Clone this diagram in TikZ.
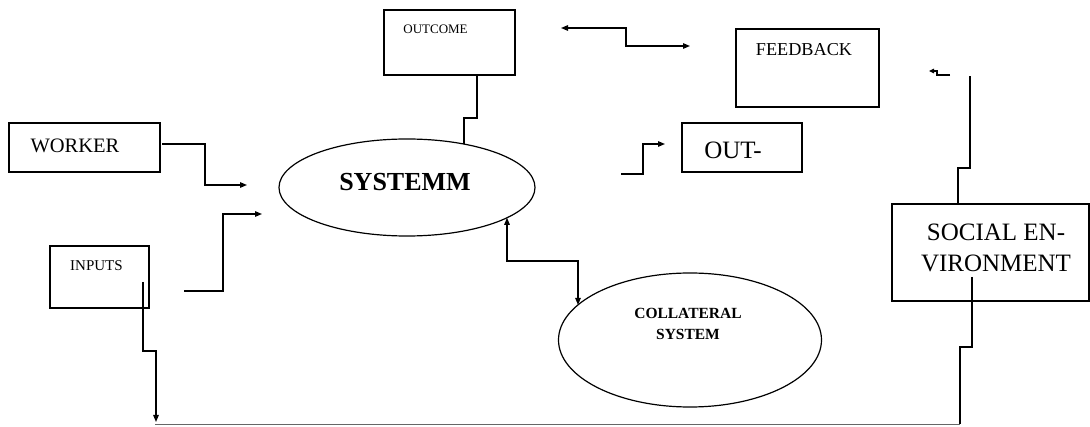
\documentclass[tikz,border=0pt]{standalone}
\usepackage{fontspec}
\setmainfont{Liberation Serif}
\usetikzlibrary{arrows.meta,shapes.geometric,calc}
\begin{document}
\begin{tikzpicture}[x=1pt,y=-1pt,
  box/.style={draw, line width=1.2pt, anchor=north west, inner sep=0pt, outer sep=0pt},
  oval/.style={draw, ellipse, line width=1.2pt, inner sep=0pt, outer sep=0pt},
  txt/.style={inner sep=0pt, align=center},
  conn/.style={line width=1.3pt},
  tip/.style={-{Triangle[length=7pt,width=5.5pt]}},
  arr/.style={conn, tip},
  darr/.style={conn, {Triangle[length=7pt,width=5.5pt]}-{Triangle[length=7pt,width=5.5pt]}},
  thin/.style={line width=0.8pt, draw=black!60}]
\useasboundingbox (0,0) rectangle (1090,427);

% boxes
\node[box, minimum width=131pt, minimum height=65pt] (outcome) at (384,10) {};
\node[box, minimum width=143pt, minimum height=78pt] (feedback) at (736,29) {};
\node[box, minimum width=151pt, minimum height=49pt] (worker) at (9,123) {};
\node[box, minimum width=99pt, minimum height=62pt] (inputs) at (50,246) {};
\node[box, minimum width=120pt, minimum height=49pt] (out) at (682,123) {};
\node[box, minimum width=197pt, minimum height=97pt] (social) at (892,204) {};
\node[oval, minimum width=256pt, minimum height=97pt] (sys) at (407,187.5) {};
\node[oval, minimum width=263pt, minimum height=134pt] (coll) at (690,340) {};

% texts
\node[txt, font=\fontsize{13}{15}\selectfont] (toutcome) at (435.5,29) {OUTCOME};
\node[txt, font=\fontsize{18.2}{20}\selectfont] (tfeedback) at (804,50) {FEEDBACK};
\node[txt, font=\fontsize{20.5}{22}\selectfont] (tworker) at (75,146) {WORKER};
\node[txt, font=\fontsize{15}{17}\selectfont] (tinputs) at (96.5,266) {INPUTS};
\node[txt, font=\fontsize{25}{27}\selectfont] (tout) at (733,150) {OUT-};
\node[txt, font=\fontsize{25}{31}\selectfont] (tsocial) at (996,247.5) {SOCIAL EN-\\VIRONMENT};
\node[txt, font=\fontsize{26}{28}\selectfont\bfseries] (tsys) at (405,182) {SYSTEMM};
\node[txt, font=\fontsize{15.5}{21}\selectfont\bfseries] (tcoll) at (688,323.5) {COLLATERAL\\SYSTEM};

% free ends
\coordinate (tl) at (561,28);
\coordinate (tr) at (690,46);
\coordinate (fbtip) at (929,71);
\coordinate (fbend) at (970,76);
\coordinate (wend) at (247,185);
\coordinate (iend) at (262,214);
\coordinate (istart) at (184,291);
\coordinate (ostart) at (621,174);
\coordinate (oend) at (665,144);
\coordinate (bl) at (155,424);
\coordinate (br) at (960,424);

% connectors
\draw[conn] ($(outcome.south west)+(93,0)$) -- ++(0,43) -- ++(-13,0) -- ($(sys.center)+(57,-43.4)$);
\draw[darr] (tl) -| (626,46) -- (tr);
\draw[line width=1.2pt, -{Triangle[length=5pt,width=4.5pt]}] (950,75) -- (937,75) -- (937,71) -- (fbtip);
\draw[conn] ($(social.north west)+(66,0)$) -- ++(0,-36) -- ++(12,0) -- (fbend);
\draw[conn] ($(social.north west)+(80,73)$) -- ++(0,70) -- ++(-12,0) -- (br);
\draw[thin] (br) -- (bl);
\draw[arr] ($(inputs.north west)+(93,36)$) -- ++(0,69) -- ++(13,0) -- ($(bl)+(1,-2)$);
\draw[arr] (istart) -- (223,291) -- (223,214) -- (iend);
\draw[arr] ($(worker.east)+(2,-3.5)$) -- (205,144) -- (205,185) -- (wend);
\draw[darr] ($(sys.center)+(100,30.3)$) -- (507,261) -- (578,261) -- ($(coll.center)+(-112,-35.1)$);
\draw[arr] (ostart) -- (643,174) -- (643,144) -- (oend);
\end{tikzpicture}
\end{document}
